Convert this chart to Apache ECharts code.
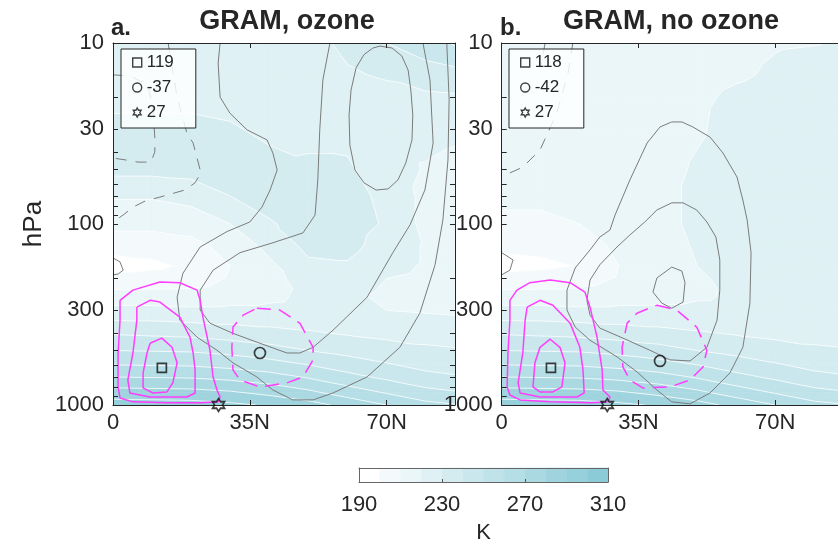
<!DOCTYPE html>
<html>
<head>
<meta charset="utf-8">
<script src="https://cdn.jsdelivr.net/npm/echarts@6/dist/echarts.min.js"></script>
<style>
  html, body { margin: 0; padding: 0; background: #ffffff; }
  #chart { width: 838px; height: 545px; }
</style>
</head>
<body>
<div id="chart"></div>
<script>
// ---------------------------------------------------------------------------
// Temperature cross-sections (K) on a latitude / pressure grid
// ---------------------------------------------------------------------------
const LATS = [0, 10, 20, 30, 40, 50, 60, 70, 80, 90];
const LEVELS = [10, 15, 20, 30, 50, 70, 100, 130, 170, 200, 250, 300, 400, 500, 600, 700, 850, 1000];

// one row per pressure level, one column per latitude
const TEMP_OZONE = [
  [224, 224, 224, 224, 225, 227, 232, 240, 246, 253],
  [226, 226, 226, 226, 226, 228, 229, 231, 235, 238],
  [228, 228, 228, 227, 226, 228, 228, 227, 228, 229],
  [232, 232, 232, 231, 228, 228.5, 228, 225, 224, 222],
  [233, 233, 234, 235, 233, 231, 231, 226, 219, 216],
  [221, 221, 223, 230, 234, 233, 233, 228, 217, 214],
  [213, 213, 215, 220, 229, 234, 234, 229, 217, 214],
  [204, 204.5, 207, 214, 223, 233, 233, 226, 219, 214],
  [196, 198, 202, 210, 218, 228, 229, 223, 219, 214],
  [203, 204, 205, 211, 217, 224, 225, 220, 218, 214],
  [214, 214, 214, 216, 218, 222, 222, 218, 216, 214],
  [223, 223, 222, 222, 222, 223, 222, 220, 219, 218],
  [239, 238, 237, 235, 233, 231, 229, 227.5, 227, 226],
  [250, 249.5, 249, 247, 244, 240, 237, 234, 231.5, 230.5],
  [260, 259.5, 259, 257, 254, 250, 245, 241, 237, 235],
  [270, 269.5, 269, 267, 264, 259, 253, 248, 243, 240.5],
  [284, 283.5, 283, 281, 277, 272, 265, 259, 253, 250],
  [295, 294.5, 294, 292, 289, 284, 277, 270, 263, 260]
];

const TEMP_NO_OZONE = [
  [214, 214, 214, 215, 216, 217, 218, 219.5, 219.8, 220.5],
  [214, 214, 214, 215, 216, 217, 219, 221, 222, 222.5],
  [214, 214, 214, 215, 216, 218.5, 221.5, 223, 224, 224.5],
  [214, 214, 214, 215, 216, 219, 223, 224, 225, 225.5],
  [213, 213, 213.5, 215, 217, 221, 224, 225, 226, 226.5],
  [212, 212, 213, 215, 217, 222, 225, 226, 227, 227],
  [208, 208, 210, 214, 217, 222, 225, 226, 227, 227],
  [202, 203, 206, 212, 216, 221, 224, 225.5, 226, 226.5],
  [197, 198, 200.5, 210, 215, 220, 223, 225, 225.5, 226],
  [203, 204, 206, 211, 215, 219, 222, 224, 225, 225.5],
  [214, 214, 214, 216, 217, 219, 221, 223, 224, 225],
  [223, 223, 222, 222, 222, 222, 222, 223, 224, 225],
  [239, 238, 237, 235, 233, 231, 229, 227.5, 227, 226],
  [250, 249.5, 249, 247, 244, 240, 237, 234, 231.5, 230.5],
  [260, 259.5, 259, 257, 254, 250, 245, 241, 237, 235],
  [270, 269.5, 269, 267, 264, 259, 253, 248, 243, 240.5],
  [284, 283.5, 283, 281, 277, 272, 265, 259, 253, 250],
  [295, 294.5, 294, 292, 289, 284, 277, 270, 263, 260]
];

// shading bands of the temperature field (K)
const BAND_EDGES = [190, 200, 210, 220, 230, 240, 250, 260, 270, 280, 290, 300, 310];
const CBAR_LABELS = [190, 230, 270, 310];
const CBAR_TICKS = [230, 270];

// axis ticks
const LAT_TICKS = [0, 35, 70];
const LAT_TICK_LABELS = ['0', '35N', '70N'];
const P_LABELS = [10, 30, 100, 300, 1000];
const P_MINOR = [20, 40, 50, 60, 70, 80, 90, 200, 400, 500, 600, 700, 800, 900];

// ---------------------------------------------------------------------------
// Contours of the response fields, [latitude, hPa]
// ---------------------------------------------------------------------------
// GRAM, ozone
const grayOuterOzone = [[27.4,10],[26.9,12.9],[27.4,19.9],[29.9,24.4],[34.3,30.2],[39.4,34.3],[40.9,40.5],[42.0,50.3],[40.2,64.9],[38.1,80.7],[35.0,97.5],[29.2,110],[22.3,134],[17.9,187],[16.4,254],[17.1,340],[21.5,422],[26.6,498],[30.7,585],[36.8,700],[40.9,826],[46.0,937],[51.2,937],[56.3,858],[65.0,700],[73.4,480],[78.5,311],[82.4,168],[84.4,95],[85.7,44.3],[86.0,20.6],[85.4,10]];
const grayInnerOzone = [[55.5,10],[53.7,16.0],[52.9,30.2],[52.4,57.1],[51.7,89.2],[48.6,112],[40.9,127],[32.5,144],[25.6,180],[22.3,232],[22.3,299],[24.8,353],[30.7,402],[37.6,456],[44.5,516],[47.8,516],[51.2,480],[56.3,386],[65.0,254],[71.6,144],[76.0,101],[79.8,64.9],[81.9,35.7],[81.1,16.0],[79.3,10]];
const grayCoreOzone = [[66.5,10.66],[68.3,10.4],[71.4,10.66],[73.9,11.8],[75.5,14.1],[76.2,18.2],[76.7,25.0],[76.5,34.3],[74.9,46.1],[72.9,57.1],[70.4,64.0],[67.3,64.9],[64.2,59.2],[61.9,50.3],[60.6,36.6],[60.4,25.0],[60.9,18.2],[62.2,13.7],[64.2,11.6],[66.5,10.66]];
const grayEdgeOzone = [[0,154],[1.8,162],[2.6,180],[1.3,189],[0,191]];
const grayNegOzone1 = [[0,15.0],[4.3,15.2],[9.0,17.1],[10.2,23.4],[10.7,33.1],[10.7,40.0],[9.7,45.5],[6.4,45.5],[3.3,44.3],[0,43.2]];
const grayNegOzone2 = [[14.1,10],[16.4,19.9],[18.9,31.4],[20.5,35.7],[22.5,52.2],[21.0,59.2],[18.4,64.9],[12.0,71.0],[8.2,74.7],[5.1,80.7],[2.6,89.2],[0,97.5]];
const magOuterOzone = [[1.8,264],[5.1,232],[12.0,209],[17.1,211],[21.5,232],[22.3,264],[23.0,327],[24.8,498],[25.6,700],[26.6,826],[27.4,903],[26.9,961],[22.3,973],[13.8,973],[5.1,961],[1.8,914],[1.3,795],[1.3,516],[1.8,340],[1.8,264]];
const magMidOzone = [[6.1,288],[9.5,264],[12.0,270],[17.1,327],[19.7,422],[20.5,516],[21.0,640],[21.0,858],[18.9,903],[9.5,903],[4.3,858],[3.8,727],[5.1,516],[6.1,340],[6.1,288]];
const magInnerOzone = [[9.5,456],[12.5,427],[15.1,480],[16.4,585],[15.3,755],[13.8,847],[10.2,858],[7.7,805],[7.7,665],[8.7,516],[9.5,456]];
const magNegOzone = [[36.8,292],[42.7,299],[47.8,353],[51.2,480],[51.2,563],[48.6,700],[44.5,755],[37.6,795],[32.5,727],[30.7,640],[30.4,480],[30.7,371],[33.3,319],[36.8,292]];
const MAX_OZONE = 119, MAX_POS_OZONE = [12.5, 624];
const MIN_OZONE = -37, MIN_POS_OZONE = [37.6, 516];

// GRAM, no ozone
const grayOuterNoOz = [[27.7,108],[25.1,118],[22.6,139],[18.8,175],[16.7,232],[16.7,299],[18.8,371],[22.6,439],[29.5,542],[34.6,656],[39.7,826],[43.5,961],[48.2,985],[53.3,858],[58.4,665],[61.7,480],[63.5,274],[63.8,144],[62.8,95.1],[61.7,73.7],[60.2,55.0],[56.6,40.5],[53.3,33.1],[48.9,29.1],[46.1,27.3],[43.5,27.3],[40.5,29.1],[37.2,35.7],[32.8,57.1],[29.0,89.2],[27.7,108]];
const grayInnerNoOz = [[39.7,83.7],[36.6,97.5],[32.8,115],[29.5,134],[25.1,168],[22.6,204],[21.8,264],[22.6,319],[25.1,376],[31.0,427],[37.9,498],[43.0,563],[48.2,571],[52.5,480],[55.1,340],[55.8,232],[55.8,158],[54.8,118],[52.5,97.5],[49.9,83.7],[46.4,76.4],[43.5,76.4],[39.7,83.7]];
const grayCoreNoOz = [[43.5,173],[46.1,182],[46.9,211],[46.4,270],[43.5,292],[41.0,274],[38.7,238],[39.7,199],[43.5,173]];
const grayEdgeNoOz = [[0,144],[2.9,158],[2.1,180],[0,191]];
const grayNegNoOz1 = [[11.1,10],[10.1,13.2]];
const grayNegNoOz2 = [[18.2,10],[17.0,14.6],[14.1,24.4],[9.8,39.0],[5.4,48.5],[2.1,52.2],[0,53.2]];
const magOuterNoOz = [[2.1,264],[3.9,232],[7.2,211],[12.4,204],[17.5,211],[21.3,238],[22.6,288],[24.4,422],[25.7,640],[25.9,826],[27.7,903],[27.2,961],[22.6,973],[12.4,961],[4.7,937],[2.1,880],[1.4,795],[1.6,516],[2.1,340],[2.1,264]];
const magMidNoOz = [[6.5,288],[9.8,264],[13.1,281],[17.5,353],[20.0,480],[20.8,640],[21.1,858],[19.3,903],[9.8,903],[4.7,858],[4.2,755],[5.4,516],[6.0,340],[6.5,288]];
const magInnerNoOz = [[9.8,480],[12.4,433],[14.9,480],[16.2,585],[15.4,795],[13.1,847],[9.8,847],[8.0,795],[8.5,585],[9.8,480]];
const magNegNoOz = [[39.7,281],[44.8,299],[49.9,371],[52.5,498],[51.5,616],[48.2,727],[43.0,795],[36.1,805],[32.8,727],[31.0,616],[30.8,480],[32.1,353],[34.6,311],[39.7,281]];
const MAX_NO_OZONE = 118, MAX_POS_NO_OZONE = [12.6, 624];
const MIN_NO_OZONE = -42, MIN_POS_NO_OZONE = [40.5, 571];

// surface latitude marked by the star in both sections
const STAR_LAT = 27;
const STAR_P = 1000;

// ---------------------------------------------------------------------------
// Styling
// ---------------------------------------------------------------------------
const FONT = '"Liberation Sans", Arial, Helvetica, sans-serif';
const INK = '#262626';
const GRAY = '#7b7b7b';
const MAGENTA = '#ff3cff';
const LOW_RGB = [255, 255, 255];
const HIGH_RGB = [138, 203, 215];
const BAND_COLORS = BAND_EDGES.slice(0, -1).map((_, k, arr) => {
  const f = k / (arr.length - 1);
  const c = LOW_RGB.map((lo, n) => Math.round(lo + (HIGH_RGB[n] - lo) * f));
  return 'rgb(' + c.join(',') + ')';
});
const STAR_PATH = 'path://M0,-10L2.887,-5L8.66,-5L5.774,0L8.66,5L2.887,5L0,10L-2.887,5L-8.66,5L-5.774,0L-8.66,-5L-2.887,-5Z';

const lp = p => Math.log10(p);

// clip a polygon of [x, y, value] vertices against value >= level (or <=)
function clipHalf(poly, level, keepAbove) {
  const out = [];
  for (let n = 0; n < poly.length; n++) {
    const a = poly[n], b = poly[(n + 1) % poly.length];
    const inA = keepAbove ? a[2] >= level : a[2] <= level;
    const inB = keepAbove ? b[2] >= level : b[2] <= level;
    if (inA) out.push(a);
    if (inA !== inB) {
      const f = (level - a[2]) / (b[2] - a[2]);
      out.push([a[0] + f * (b[0] - a[0]), a[1] + f * (b[1] - a[1]), level]);
    }
  }
  return out;
}

function triangleItems() {
  const items = [];
  for (let j = 0; j < LEVELS.length - 1; j++)
    for (let i = 0; i < LATS.length - 1; i++)
      for (let t = 0; t < 2; t++) items.push([i, j, t]);
  return items;
}

function triangleAt(api, temp) {
  const i = api.value(0), j = api.value(1), t = api.value(2);
  const corner = (ii, jj) => {
    const c = api.coord([LATS[ii], lp(LEVELS[jj])]);
    return [c[0], c[1], temp[jj][ii]];
  };
  const a = corner(i, j), b = corner(i + 1, j), c = corner(i + 1, j + 1), d = corner(i, j + 1);
  return t === 0 ? [a, b, c] : [a, c, d];
}

// filled temperature bands
function shadingSeries(temp, axis) {
  return {
    type: 'custom', xAxisIndex: axis, yAxisIndex: axis, clip: true, silent: true, z: 1,
    data: triangleItems(),
    renderItem(params, api) {
      const tri = triangleAt(api, temp);
      const children = [];
      const nb = BAND_COLORS.length;
      for (let k = 0; k < nb; k++) {
        let piece = tri;
        if (k > 0) piece = clipHalf(piece, BAND_EDGES[k], true);
        if (piece.length < 3) continue;
        if (k < nb - 1) piece = clipHalf(piece, BAND_EDGES[k + 1], false);
        if (piece.length < 3) continue;
        children.push({
          type: 'polygon',
          shape: { points: piece.map(p => [p[0], p[1]]) },
          style: { fill: BAND_COLORS[k], stroke: BAND_COLORS[k], lineWidth: 0.7 }
        });
      }
      return { type: 'group', children };
    }
  };
}

// thin white isotherms between bands
function isothermSeries(temp, axis) {
  return {
    type: 'custom', xAxisIndex: axis, yAxisIndex: axis, clip: true, silent: true, z: 2,
    data: triangleItems(),
    renderItem(params, api) {
      const tri = triangleAt(api, temp);
      const children = [];
      for (let k = 1; k < BAND_EDGES.length - 1; k++) {
        const L = BAND_EDGES[k];
        const pts = [];
        for (let n = 0; n < 3; n++) {
          const a = tri[n], b = tri[(n + 1) % 3];
          if ((a[2] < L) !== (b[2] < L)) {
            const f = (L - a[2]) / (b[2] - a[2]);
            pts.push([a[0] + f * (b[0] - a[0]), a[1] + f * (b[1] - a[1])]);
          }
        }
        if (pts.length === 2) {
          children.push({
            type: 'line',
            shape: { x1: pts[0][0], y1: pts[0][1], x2: pts[1][0], y2: pts[1][1] },
            style: { stroke: 'rgba(255,255,255,0.9)', lineWidth: 0.9 }
          });
        }
      }
      return { type: 'group', children };
    }
  };
}

function contour(points, axis, color, width, dash, z) {
  return {
    type: 'line', xAxisIndex: axis, yAxisIndex: axis, silent: true, z: z,
    data: points.map(p => [p[0], lp(p[1])]),
    symbol: 'none', smooth: false,
    lineStyle: { color: color, width: width, type: dash || 'solid', cap: 'butt', join: 'round' }
  };
}

function marker(name, pos, axis, symbol, size) {
  return {
    type: 'scatter', name: name, xAxisIndex: axis, yAxisIndex: axis, silent: true, clip: false, z: 12,
    data: [[pos[0], lp(pos[1])]],
    symbol: symbol, symbolSize: size,
    itemStyle: { color: 'rgba(0,0,0,0)', borderColor: '#111111', borderWidth: 1.7 }
  };
}

function panelSeries(temp, axis, lines, maxName, maxPos, minName, minPos) {
  const s = [shadingSeries(temp, axis), isothermSeries(temp, axis)];
  lines.gray.forEach(l => s.push(contour(l, axis, GRAY, 1, null, 4)));
  lines.grayDash.forEach(l => s.push(contour(l, axis, GRAY, 1, [11, 9], 4)));
  lines.mag.forEach(l => s.push(contour(l, axis, MAGENTA, 1.5, null, 5)));
  lines.magDash.forEach(l => s.push(contour(l, axis, MAGENTA, 1.5, [14, 8], 5)));
  s.push(marker(maxName, maxPos, axis, 'rect', 9));
  s.push(marker(minName, minPos, axis, 'circle', 11));
  s.push(marker(String(STAR_LAT), [STAR_LAT, STAR_P], axis, STAR_PATH, [12, 13]));
  return s;
}

// ---------------------------------------------------------------------------
// Axes
// ---------------------------------------------------------------------------
function latAxes(grid) {
  const line = { show: true, onZero: false, lineStyle: { color: INK, width: 1 } };
  const tick = { show: true, inside: true, length: 5, customValues: LAT_TICKS, lineStyle: { color: INK, width: 1 } };
  return [
    {
      type: 'value', gridIndex: grid, position: 'bottom', min: 0, max: 87.5, z: 10,
      splitLine: { show: false }, axisLine: line, axisTick: tick,
      axisLabel: {
        show: true, customValues: LAT_TICKS, margin: 7, fontSize: 22, color: INK, fontFamily: FONT,
        formatter: v => LAT_TICK_LABELS[LAT_TICKS.indexOf(v)]
      }
    },
    {
      type: 'value', gridIndex: grid, position: 'top', min: 0, max: 87.5, z: 10,
      splitLine: { show: false }, axisLine: line, axisTick: tick, axisLabel: { show: false }
    }
  ];
}

function presAxes(grid, name) {
  const line = { show: true, onZero: false, lineStyle: { color: INK, width: 1 } };
  const tick = {
    show: true, inside: true, length: 5,
    customValues: P_LABELS.concat(P_MINOR).map(lp), lineStyle: { color: INK, width: 1 }
  };
  return [
    {
      type: 'value', gridIndex: grid, position: 'left', min: 1, max: 3, inverse: true, z: 10,
      name: name, nameLocation: 'middle', nameGap: 66, nameRotate: 90,
      nameTextStyle: { fontSize: 26, color: INK, fontFamily: FONT },
      splitLine: { show: false }, axisLine: line, axisTick: tick,
      axisLabel: {
        show: true, customValues: P_LABELS.map(lp), margin: 9, fontSize: 22, color: INK, fontFamily: FONT,
        formatter: v => String(Math.round(Math.pow(10, v)))
      }
    },
    {
      type: 'value', gridIndex: grid, position: 'right', min: 1, max: 3, inverse: true, z: 10,
      splitLine: { show: false }, axisLine: line, axisTick: tick, axisLabel: { show: false }
    }
  ];
}

const CB_LINE = { show: true, onZero: false, lineStyle: { color: '#666666', width: 1 } };

function legendBox(names, left) {
  return {
    orient: 'vertical', left: left, top: 49, z: 30,
    itemWidth: 9, itemHeight: 9, itemGap: 8, itemTextGap: 6,
    padding: [5, 22, 7, 11],
    backgroundColor: 'rgba(255,255,255,0.82)', borderColor: INK, borderWidth: 1, borderRadius: 0,
    selectedMode: false,
    itemStyle: { color: 'rgba(0,0,0,0)', borderColor: '#111111', borderWidth: 1.4 },
    textStyle: { fontSize: 17, color: INK, fontFamily: FONT, lineHeight: 17 },
    data: [
      { name: names[0], icon: 'rect' },
      { name: names[1], icon: 'circle' },
      { name: names[2], icon: STAR_PATH }
    ]
  };
}

const namesOzone = [String(MAX_OZONE), String(MIN_OZONE), String(STAR_LAT)];
const namesNoOzone = [String(MAX_NO_OZONE), String(MIN_NO_OZONE), String(STAR_LAT)];

const linesOzone = {
  gray: [grayOuterOzone, grayInnerOzone, grayCoreOzone, grayEdgeOzone],
  grayDash: [grayNegOzone1, grayNegOzone2],
  mag: [magOuterOzone, magMidOzone, magInnerOzone],
  magDash: [magNegOzone]
};
const linesNoOzone = {
  gray: [grayOuterNoOz, grayInnerNoOz, grayCoreNoOz, grayEdgeNoOz],
  grayDash: [grayNegNoOz1, grayNegNoOz2],
  mag: [magOuterNoOz, magMidNoOz, magInnerNoOz],
  magDash: [magNegNoOz]
};

// colour bar: one rectangle per temperature band
const colorbarSeries = {
  type: 'custom', xAxisIndex: 4, yAxisIndex: 4, silent: true, z: 1,
  data: BAND_EDGES.slice(0, -1).map((lo, k) => [lo, BAND_EDGES[k + 1], k]),
  renderItem(params, api) {
    const p0 = api.coord([api.value(0), 1]);
    const p1 = api.coord([api.value(1), 0]);
    return {
      type: 'rect',
      shape: { x: p0[0], y: p0[1], width: p1[0] - p0[0], height: p1[1] - p0[1] },
      style: { fill: BAND_COLORS[api.value(2)], stroke: BAND_COLORS[api.value(2)], lineWidth: 0.5 }
    };
  }
};

const option = {
  animation: false,
  backgroundColor: '#ffffff',
  textStyle: { fontFamily: FONT, color: INK },
  title: [
    { text: 'a.', left: 111, top: 16, padding: 0, textStyle: { fontSize: 24, fontWeight: 'bold', color: INK, fontFamily: FONT } },
    { text: 'GRAM, ozone', left: 287, top: 8, padding: 0, textAlign: 'center', textStyle: { fontSize: 27, fontWeight: 'bold', color: INK, fontFamily: FONT } },
    { text: 'b.', left: 500, top: 16, padding: 0, textStyle: { fontSize: 24, fontWeight: 'bold', color: INK, fontFamily: FONT } },
    { text: 'GRAM, no ozone', left: 671, top: 8, padding: 0, textAlign: 'center', textStyle: { fontSize: 27, fontWeight: 'bold', color: INK, fontFamily: FONT } }
  ],
  legend: [legendBox(namesOzone, 121), legendBox(namesNoOzone, 509)],
  grid: [
    { left: 113, top: 43, width: 342, height: 362, containLabel: false, outerBoundsMode: 'none' },
    { left: 501.7, top: 43, width: 342, height: 362, containLabel: false, outerBoundsMode: 'none' },
    { left: 359, top: 468, width: 249, height: 14, containLabel: false, outerBoundsMode: 'none' }
  ],
  xAxis: [
    ...latAxes(0),
    ...latAxes(1),
    {
      type: 'value', gridIndex: 2, position: 'bottom', min: 190, max: 310, z: 10,
      name: 'K', nameLocation: 'middle', nameGap: 40,
      nameTextStyle: { fontSize: 22, color: INK, fontFamily: FONT },
      splitLine: { show: false }, axisLine: CB_LINE,
      axisTick: { show: true, inside: true, length: 3, customValues: CBAR_TICKS, lineStyle: { color: '#555555' } },
      axisLabel: { show: true, customValues: CBAR_LABELS, margin: 12, fontSize: 22, color: INK, fontFamily: FONT }
    },
    {
      type: 'value', gridIndex: 2, position: 'top', min: 190, max: 310, z: 10,
      splitLine: { show: false }, axisLine: CB_LINE, axisTick: { show: false }, axisLabel: { show: false }
    }
  ],
  yAxis: [
    ...presAxes(0, 'hPa'),
    ...presAxes(1, ''),
    {
      type: 'value', gridIndex: 2, position: 'left', min: 0, max: 1, z: 10,
      splitLine: { show: false }, axisLine: CB_LINE, axisTick: { show: false }, axisLabel: { show: false }
    },
    {
      type: 'value', gridIndex: 2, position: 'right', min: 0, max: 1, z: 10,
      splitLine: { show: false }, axisLine: CB_LINE, axisTick: { show: false }, axisLabel: { show: false }
    }
  ],
  series: [
    ...panelSeries(TEMP_OZONE, 0, linesOzone, namesOzone[0], MAX_POS_OZONE, namesOzone[1], MIN_POS_OZONE),
    ...panelSeries(TEMP_NO_OZONE, 2, linesNoOzone, namesNoOzone[0], MAX_POS_NO_OZONE, namesNoOzone[1], MIN_POS_NO_OZONE),
    colorbarSeries
  ]
};

const chart = echarts.init(document.getElementById('chart'), null, { renderer: 'canvas' });
chart.setOption(option);
</script>
</body>
</html>
